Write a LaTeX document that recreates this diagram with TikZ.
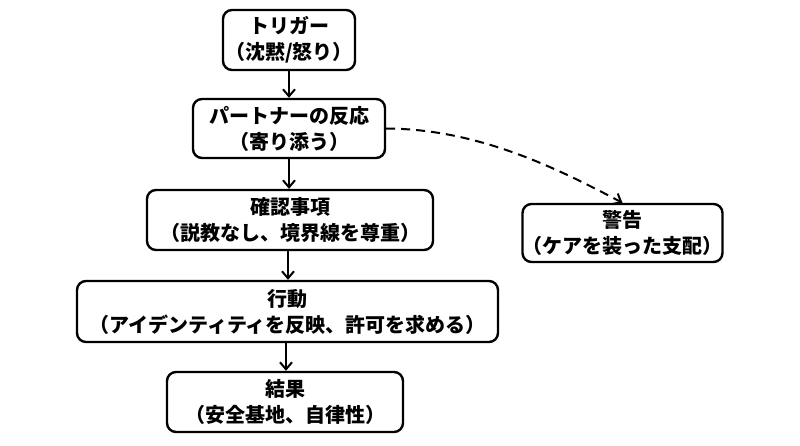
\documentclass[tikz,border=0pt]{standalone}
\usepackage{fontspec}
\newfontfamily\jpfont{Noto Sans CJK JP}
\usetikzlibrary{arrows.meta}
\begin{document}
\begin{tikzpicture}[x=1pt,y=-1pt,
  stepbox/.style={draw, line width=2.4pt, rounded corners=9pt, align=center,
    inner sep=0pt, font=\jpfont\bfseries\fontsize{20}{26}\selectfont},
  flow/.style={line width=2pt, -{Straight Barb[length=7pt,width=12pt,line width=2pt]}},
  link/.style={flow, dashed, dash pattern=on 9pt off 6pt}]
\useasboundingbox (0,0) rectangle (800,446);
\fill[white] (0,0) rectangle (800,446);

% main chain of steps
\node[stepbox, minimum width=132pt, minimum height=60pt] (trig) at (289,40)
  {トリガー\\（沈黙/怒り）};
\node[stepbox, minimum width=192pt, minimum height=59pt] (part) at (289,128.5)
  {パートナーの反応\\（寄り添う）};
\node[stepbox, minimum width=286pt, minimum height=60pt] (conf) at (290,220)
  {確認事項\\（説教なし、境界線を尊重）};
\node[stepbox, minimum width=421pt, minimum height=61pt] (act) at (287.5,311.5)
  {行動\\（アイデンティティを反映、許可を求める）};
\node[stepbox, minimum width=236pt, minimum height=60pt] (res) at (285,402)
  {結果\\（安全基地、自律性）};
% side branch
\node[stepbox, minimum width=199pt, minimum height=58pt] (warn) at (622.5,233)
  {警告\\（ケアを装った支配）};

\draw[flow] (trig.south) -- (trig.south |- part.north);
\draw[flow] (part.south) -- (part.south |- conf.north);
\draw[flow] (conf.south -| 288,0) -- (act.north -| 288,0);
\draw[flow] (act.south -| 286,0) -- (res.north -| 286,0);
\draw[link] (part.east) .. controls (480,129) and (560,170) .. (warn.north);
\end{tikzpicture}
\end{document}
